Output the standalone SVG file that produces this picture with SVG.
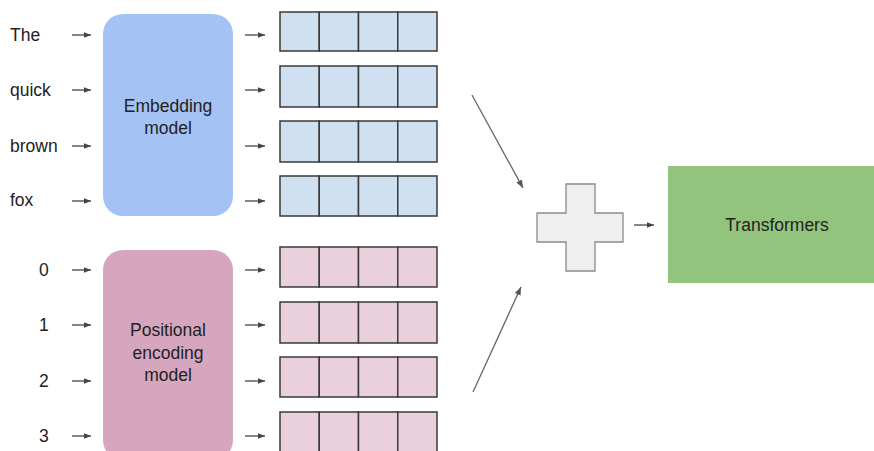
<svg xmlns="http://www.w3.org/2000/svg" width="874" height="451" viewBox="0 0 874 451">
  <defs>
    <marker id="head" viewBox="0 0 10 10" refX="10" refY="5" markerWidth="7" markerHeight="7" markerUnits="userSpaceOnUse" orient="auto">
      <path d="M0,1 L10,5 L0,9 z" fill="#444"/>
    </marker>
    <marker id="headLg" viewBox="0 0 10 10" refX="10" refY="5" markerWidth="8" markerHeight="8" markerUnits="userSpaceOnUse" orient="auto">
      <path d="M0,1 L10,5 L0,9 z" fill="#555"/>
    </marker>
  </defs>
  <style>
    text { font-family: "Liberation Sans", Arial, sans-serif; font-size: 17.5px; fill: #222; }
    .mid { text-anchor: middle; }
    .conn line { stroke: #444; stroke-width: 1.3; marker-end: url(#head); }
    .conn line.diag { stroke: #666; stroke-width: 1.3; marker-end: url(#headLg); }
    .cell { stroke: #3a3a3a; stroke-width: 1.5; }
    .emb .cell { fill: #cfe0f1; }
    .pos .cell { fill: #e9d0dc; }
  </style>

  <rect width="874" height="451" fill="#ffffff"/>

  <!-- input tokens -->
  <g id="tokens">
    <text x="10" y="41">The</text>
    <text x="10" y="96">quick</text>
    <text x="10" y="152">brown</text>
    <text x="10" y="206">fox</text>
  </g>
  <g id="positions">
    <text x="39" y="276">0</text>
    <text x="39" y="331">1</text>
    <text x="39" y="387">2</text>
    <text x="39" y="442">3</text>
  </g>

  <!-- models -->
  <g id="embedding-model">
    <rect x="103" y="14" width="130" height="202" rx="20" fill="#a4c2f4"/>
    <text class="mid" x="168" y="112">Embedding</text>
    <text class="mid" x="168" y="134">model</text>
  </g>
  <g id="positional-model">
    <rect x="103" y="250" width="130" height="210" rx="20" fill="#d5a6bd"/>
    <text class="mid" x="168" y="336">Positional</text>
    <text class="mid" x="168" y="359">encoding</text>
    <text class="mid" x="168" y="381">model</text>
  </g>

  <!-- embedding vectors -->
  <g id="embedding-vectors" class="emb">
    <g id="emb-0"><rect class="cell" x="280" y="12" width="39.25" height="39"/><rect class="cell" x="319.25" y="12" width="39.25" height="39"/><rect class="cell" x="358.5" y="12" width="39.25" height="39"/><rect class="cell" x="397.75" y="12" width="39.25" height="39"/></g>
    <g id="emb-1"><rect class="cell" x="280" y="66" width="39.25" height="41"/><rect class="cell" x="319.25" y="66" width="39.25" height="41"/><rect class="cell" x="358.5" y="66" width="39.25" height="41"/><rect class="cell" x="397.75" y="66" width="39.25" height="41"/></g>
    <g id="emb-2"><rect class="cell" x="280" y="121" width="39.25" height="41"/><rect class="cell" x="319.25" y="121" width="39.25" height="41"/><rect class="cell" x="358.5" y="121" width="39.25" height="41"/><rect class="cell" x="397.75" y="121" width="39.25" height="41"/></g>
    <g id="emb-3"><rect class="cell" x="280" y="176" width="39.25" height="40"/><rect class="cell" x="319.25" y="176" width="39.25" height="40"/><rect class="cell" x="358.5" y="176" width="39.25" height="40"/><rect class="cell" x="397.75" y="176" width="39.25" height="40"/></g>
  </g>

  <!-- positional vectors -->
  <g id="positional-vectors" class="pos">
    <g id="pos-0"><rect class="cell" x="280" y="247" width="39.25" height="40"/><rect class="cell" x="319.25" y="247" width="39.25" height="40"/><rect class="cell" x="358.5" y="247" width="39.25" height="40"/><rect class="cell" x="397.75" y="247" width="39.25" height="40"/></g>
    <g id="pos-1"><rect class="cell" x="280" y="302" width="39.25" height="41"/><rect class="cell" x="319.25" y="302" width="39.25" height="41"/><rect class="cell" x="358.5" y="302" width="39.25" height="41"/><rect class="cell" x="397.75" y="302" width="39.25" height="41"/></g>
    <g id="pos-2"><rect class="cell" x="280" y="357" width="39.25" height="40"/><rect class="cell" x="319.25" y="357" width="39.25" height="40"/><rect class="cell" x="358.5" y="357" width="39.25" height="40"/><rect class="cell" x="397.75" y="357" width="39.25" height="40"/></g>
    <g id="pos-3"><rect class="cell" x="280" y="412" width="39.25" height="42"/><rect class="cell" x="319.25" y="412" width="39.25" height="42"/><rect class="cell" x="358.5" y="412" width="39.25" height="42"/><rect class="cell" x="397.75" y="412" width="39.25" height="42"/></g>
  </g>

  <!-- sum -->
  <g id="plus">
    <path d="M566,184 H595 V213 H623 V242 H595 V271 H566 V242 H537 V213 H566 Z" fill="#efefef" stroke="#8a8a8a" stroke-width="1.3"/>
  </g>

  <g id="transformers">
    <rect x="668" y="166" width="206" height="117" fill="#93c47d"/>
    <text class="mid" x="777" y="231">Transformers</text>
  </g>

  <!-- connectors -->
  <g id="connectors" class="conn">
    <line x1="72" y1="35" x2="91" y2="35"/>
    <line x1="72" y1="90" x2="91" y2="90"/>
    <line x1="72" y1="146" x2="91" y2="146"/>
    <line x1="72" y1="201" x2="91" y2="201"/>
    <line x1="72" y1="270" x2="91" y2="270"/>
    <line x1="72" y1="325" x2="91" y2="325"/>
    <line x1="72" y1="381" x2="91" y2="381"/>
    <line x1="72" y1="436" x2="91" y2="436"/>

    <line x1="245" y1="35" x2="265" y2="35"/>
    <line x1="245" y1="90" x2="265" y2="90"/>
    <line x1="245" y1="146" x2="265" y2="146"/>
    <line x1="245" y1="201" x2="265" y2="201"/>
    <line x1="245" y1="270" x2="265" y2="270"/>
    <line x1="245" y1="325" x2="265" y2="325"/>
    <line x1="245" y1="381" x2="265" y2="381"/>
    <line x1="245" y1="436" x2="265" y2="436"/>

    <line class="diag" x1="472" y1="95" x2="523" y2="188"/>
    <line class="diag" x1="473" y1="392" x2="521" y2="287"/>
    <line x1="634" y1="225" x2="654" y2="225"/>
  </g>
</svg>
